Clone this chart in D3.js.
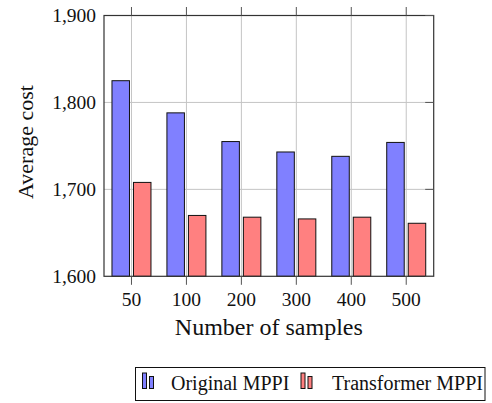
<!DOCTYPE html>
<html>
<head>
<meta charset="utf-8">
<script src="https://cdn.jsdelivr.net/npm/d3@7"></script>
<style>
  html, body { margin: 0; padding: 0; background: #fff; }
  svg { display: block; font-family: "Liberation Serif", "Times New Roman", Times, serif; }
</style>
</head>
<body>
<svg id="chart" width="492" height="403"></svg>
<script>
// Average cost per sample count for the two controllers
const samples = ["50", "100", "200", "300", "400", "500"];
const originalMPPI = [1825, 1788, 1755, 1743, 1738, 1754];
const transformerMPPI = [1708, 1670, 1668, 1666, 1668, 1661];
const yTicks = [1600, 1700, 1800, 1900];
const seriesNames = ["Original MPPI", "Transformer MPPI"];
const seriesFill = ["#8080ff", "#ff8080"];

const svg = d3.select("#chart");
const box = { left: 104, right: 433.7, top: 15.5, bottom: 276.3 };

const x = d3.scaleBand().domain(samples).range([box.left, box.right]).padding(0);
const y = d3.scaleLinear().domain([1600, 1900]).range([box.bottom, box.top]);
const yFmt = d3.format(",");
const cx = d => x(d) + x.bandwidth() / 2;

// grid
const grid = svg.append("g").attr("stroke", "#c4c4c4").attr("stroke-width", 1);
grid.selectAll("line.gx").data(samples).join("line")
  .attr("x1", cx).attr("x2", cx)
  .attr("y1", box.top).attr("y2", box.bottom);
grid.selectAll("line.gy").data(yTicks.slice(1, -1)).join("line")
  .attr("x1", box.left).attr("x2", box.right)
  .attr("y1", d => y(d)).attr("y2", d => y(d));

// bars
const barW = 17.5, gap = 2;
const series = [originalMPPI, transformerMPPI];
series.forEach((vals, si) => {
  svg.append("g").selectAll("rect").data(samples).join("rect")
    .attr("x", d => si === 0 ? cx(d) - gap - barW : cx(d) + gap)
    .attr("y", (d, i) => y(vals[i]))
    .attr("width", barW)
    .attr("height", (d, i) => y(1600) - y(vals[i]))
    .attr("fill", seriesFill[si])
    .attr("stroke", "#111")
    .attr("stroke-width", 1);
});

// axis frame
svg.append("rect")
  .attr("x", box.left).attr("y", box.top)
  .attr("width", box.right - box.left).attr("height", box.bottom - box.top)
  .attr("fill", "none").attr("stroke", "#333").attr("stroke-width", 1.2);

// tick marks
const ticks = svg.append("g").attr("stroke", "#555").attr("stroke-width", 1);
ticks.selectAll("line.tb").data(samples).join("line")
  .attr("x1", cx).attr("x2", cx)
  .attr("y1", box.bottom).attr("y2", box.bottom + 8.5);
ticks.selectAll("line.tt").data(samples).join("line")
  .attr("x1", cx).attr("x2", cx)
  .attr("y1", box.top).attr("y2", box.top - 8.5);
ticks.selectAll("line.tr").data(yTicks).join("line")
  .attr("x1", box.right - 8.5).attr("x2", box.right)
  .attr("y1", d => y(d)).attr("y2", d => y(d));

// tick labels
svg.append("g").selectAll("text").data(samples).join("text")
  .attr("x", cx)
  .attr("y", 306)
  .attr("text-anchor", "middle")
  .attr("font-size", 19.5)
  .attr("fill", "#111")
  .text(d => d);
svg.append("g").selectAll("text").data(yTicks).join("text")
  .attr("x", box.left - 8)
  .attr("y", d => y(d) + 6.5)
  .attr("text-anchor", "end")
  .attr("font-size", 19.5)
  .attr("fill", "#111")
  .text(d => yFmt(d));

// axis titles
svg.append("text")
  .attr("x", (box.left + box.right) / 2)
  .attr("y", 335)
  .attr("text-anchor", "middle")
  .attr("font-size", 24)
  .attr("fill", "#111")
  .text("Number of samples");
svg.append("text")
  .attr("transform", "translate(33,142) rotate(-90)")
  .attr("text-anchor", "middle")
  .attr("font-size", 22)
  .attr("fill", "#111")
  .text("Average cost");

// legend
const legend = svg.append("g");
legend.append("rect")
  .attr("x", 135.5).attr("y", 367.5).attr("width", 349.5).attr("height", 33)
  .attr("fill", "#fff").attr("stroke", "#111").attr("stroke-width", 1);
const legendItems = [
  { name: seriesNames[0], fill: seriesFill[0], ix: 142.5, tx: 171 },
  { name: seriesNames[1], fill: seriesFill[1], ix: 301, tx: 332 }
];
legendItems.forEach(it => {
  legend.append("rect").attr("x", it.ix).attr("y", 373).attr("width", 4).attr("height", 15.5)
    .attr("fill", it.fill).attr("stroke", "#111").attr("stroke-width", 1);
  legend.append("rect").attr("x", it.ix + 7).attr("y", 376.5).attr("width", 4).attr("height", 12)
    .attr("fill", it.fill).attr("stroke", "#111").attr("stroke-width", 1);
  legend.append("text").attr("x", it.tx).attr("y", 390)
    .attr("font-size", 20).attr("fill", "#111").text(it.name);
});
</script>
</body>
</html>
